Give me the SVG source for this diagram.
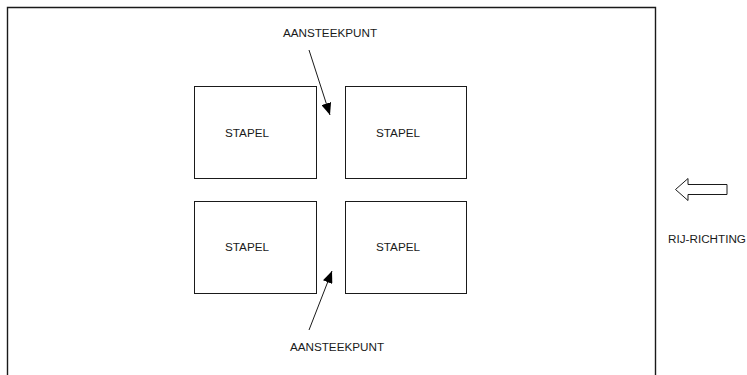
<svg xmlns="http://www.w3.org/2000/svg" width="747" height="375" viewBox="0 0 747 375">
<style>
.box{fill:#fff;stroke:#1a1a1a;stroke-width:1}
.t{font-family:"Liberation Sans",Arial,sans-serif;font-size:11.7px;fill:#1a1a1a;text-anchor:middle}
.ln{stroke:#1a1a1a;stroke-width:1;fill:none}
</style>
<defs>
<marker id="ah" viewBox="0 0 12 10" refX="12" refY="5" markerWidth="12" markerHeight="10" markerUnits="userSpaceOnUse" orient="auto">
<path d="M0,0 L12,5 L0,10 Z" fill="#000"/>
</marker>
</defs>
<rect width="747" height="375" fill="#fff"/>
<g id="frame"><path d="M7.5,376 V7.5 H655.5 V376" fill="none" stroke="#1a1a1a" stroke-width="1.4"/></g>
<g id="stapel1"><rect class="box" x="194.5" y="86.5" width="122" height="92"/><text class="t" x="247" y="136.5">STAPEL</text></g>
<g id="stapel2"><rect class="box" x="345.5" y="86.5" width="121" height="92"/><text class="t" x="398" y="136.5">STAPEL</text></g>
<g id="stapel3"><rect class="box" x="194.5" y="201.5" width="122" height="92"/><text class="t" x="247" y="251">STAPEL</text></g>
<g id="stapel4"><rect class="box" x="345.5" y="201.5" width="121" height="92"/><text class="t" x="398" y="251">STAPEL</text></g>
<g id="label-top"><text class="t" x="330" y="37">AANSTEEKPUNT</text></g>
<g id="label-bottom"><text class="t" x="337" y="351">AANSTEEKPUNT</text></g>
<g id="rijrichting">
<path d="M727,184.5 H688 V178.5 L675.5,189.5 L688,200.5 V194.5 H727 Z" fill="#fff" stroke="#1a1a1a" stroke-width="1"/>
<text class="t" x="707" y="243">RIJ-RICHTING</text>
</g>
<g id="connectors">
<line class="ln" x1="309" y1="50" x2="330" y2="115" marker-end="url(#ah)"/>
<line class="ln" x1="309" y1="330" x2="332" y2="271" marker-end="url(#ah)"/>
</g>
</svg>
